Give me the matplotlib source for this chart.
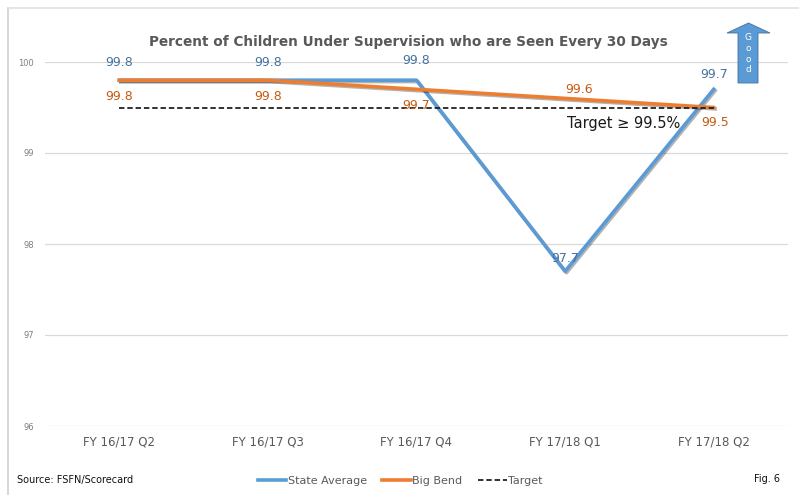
import matplotlib
matplotlib.use("Agg")
import matplotlib.pyplot as plt
import matplotlib.patheffects as pe
from matplotlib.lines import Line2D
from matplotlib.patches import Polygon

categories = ["FY 16/17 Q2", "FY 16/17 Q3", "FY 16/17 Q4", "FY 17/18 Q1", "FY 17/18 Q2"]
state_avg = [99.8, 99.8, 99.8, 97.7, 99.7]
big_bend = [99.8, 99.8, 99.7, 99.6, 99.5]
target = [99.5, 99.5, 99.5, 99.5, 99.5]
y_ticks = [96, 97, 98, 99, 100]

BLUE = "#5B9BD5"
ORANGE = "#ED7D31"
BLUE_TXT = "#44729E"
ORANGE_TXT = "#C55A11"
GRAY_TXT = "#595959"

W, H = 799, 495
fig = plt.figure(figsize=(W / 100, H / 100), dpi=100)


def fx(px):
    return px / W


def fy(py):
    return 1 - py / H


ax = fig.add_axes([fx(45), fy(426), fx(788) - fx(45), fy(62) - fy(426)])
x = list(range(len(categories)))

shadow = [pe.SimpleLineShadow(offset=(1.0, -1.0), shadow_color="k", alpha=0.3), pe.Normal()]
ax.plot(x, state_avg, color=BLUE, lw=2.6, path_effects=shadow, zorder=3)
ax.plot(x, big_bend, color=ORANGE, lw=2.6, path_effects=shadow, zorder=4)
ax.plot(x, target, color="#222222", lw=1.3, ls=(0, (3, 1.6)), zorder=5)

ax.set_xlim(-0.5, len(categories) - 0.5)
ax.set_ylim(96, 100)
ax.set_yticks(y_ticks)
ax.set_yticklabels([str(t) for t in y_ticks], fontsize=6, color="#7f7f7f")
ax.set_xticks(x)
ax.set_xticklabels(categories, fontsize=8.5, color=GRAY_TXT)
ax.tick_params(axis="both", length=0)
ax.tick_params(axis="y", pad=8)
ax.tick_params(axis="x", pad=7)
ax.grid(axis="y", color="#d9d9d9", lw=0.9)
ax.set_axisbelow(True)
for s in ax.spines.values():
    s.set_visible(False)

# value labels, offsets in points from each point
lbl = dict(fontsize=9, ha="center", va="center")
blue_offsets = [(0, 13), (0, 13), (0, 14), (0, 9.5), (0, 11)]
orange_offsets = [(0, -12), (0, -12), (0, -12), (10, 6.5), (1, -11)]
for i, v in enumerate(state_avg):
    dx, dy = blue_offsets[i]
    ax.annotate(f"{v:.1f}", (i, v), xytext=(dx, dy), textcoords="offset points",
                color=BLUE_TXT, zorder=6, **lbl)
for i, v in enumerate(big_bend):
    dx, dy = orange_offsets[i]
    ax.annotate(f"{v:.1f}", (i, v), xytext=(dx, dy), textcoords="offset points",
                color=ORANGE_TXT, zorder=6, **lbl)

ax.text(3.01, 99.32, "Target \u2265 99.5%", fontsize=10.5, color="#1a1a1a",
        ha="left", va="center", zorder=6)

fig.text(fx(408), fy(42), "Percent of Children Under Supervision who are Seen Every 30 Days",
         fontsize=9.8, fontweight="bold", color=GRAY_TXT, ha="center", va="center")

# outer frame lines
fig.add_artist(Line2D([fx(8), fx(8)], [fy(8), 0], color="#cfcfcf", lw=1.2, transform=fig.transFigure))
fig.add_artist(Line2D([fx(8), 1], [fy(8), fy(8)], color="#e0e0e0", lw=1.2, transform=fig.transFigure))

# "Good" arrow
arrow_px = [(738, 83), (738, 33), (727, 33), (748.5, 23), (770, 33), (758, 33), (758, 83)]
fig.add_artist(Polygon([(fx(a), fy(b)) for a, b in arrow_px], closed=True,
                       facecolor=BLUE, edgecolor="#41719C", lw=0.6, transform=fig.transFigure))
for ch, py in zip("Good", [38, 48.5, 59, 70]):
    fig.text(fx(748), fy(py), ch, fontsize=6.5, color="white", ha="center", va="center")

# footer
fig.text(fx(17), fy(480), "Source: FSFN/Scorecard", fontsize=7, color="#111111", ha="left", va="center")
fig.text(fx(780), fy(479), "Fig. 6", fontsize=7, color="#111111", ha="right", va="center")

handles = [
    Line2D([], [], color=BLUE, lw=2.6),
    Line2D([], [], color=ORANGE, lw=2.6),
    Line2D([], [], color="#222222", lw=1.3, ls=(0, (3, 1.6))),
]
fig.legend(handles, ["State Average", "Big Bend", "Target"], loc="center",
           bbox_to_anchor=(fx(400), fy(481)), ncol=3, frameon=False,
           fontsize=8, labelcolor=GRAY_TXT, handlelength=2.6, handletextpad=0.1,
           columnspacing=1.4)

fig.savefig("out.png", dpi=100)
